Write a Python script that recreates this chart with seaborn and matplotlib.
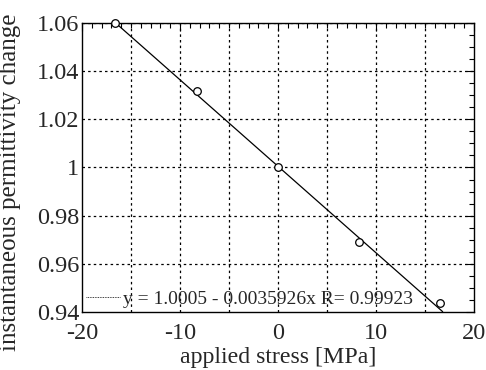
import numpy as np
import pandas as pd
import matplotlib
matplotlib.use("Agg")
import matplotlib.pyplot as plt
from matplotlib.lines import Line2D
from matplotlib.ticker import MultipleLocator
import seaborn as sns

# measured points
stress = [-16.6, -8.3, 0.0, 8.3, 16.5]
permittivity = [1.0600, 1.0318, 1.0000, 0.9690, 0.9437]

# linear fit
intercept = 1.0005
slope = -0.0035926
r_value = 0.99923
fit_range = [-16.6, 16.8]

sns.set_style("white")
plt.rcParams["font.family"] = ["Liberation Serif", "DejaVu Serif"]

fig = plt.figure(figsize=(4.86, 3.70), dpi=100)
ax = fig.add_axes([0.1687, 0.1568, 0.8066, 0.781])

pts = pd.DataFrame({"stress": stress, "perm": permittivity})
fit_x = np.array(fit_range)
fit = pd.DataFrame({"stress": fit_x, "perm": intercept + slope * fit_x})

sns.lineplot(data=fit, x="stress", y="perm", ax=ax, color="black", lw=0.9,
             zorder=3)
sns.scatterplot(data=pts, x="stress", y="perm", ax=ax, marker="o", s=30,
                facecolor="white", edgecolor="black", linewidth=0.9, zorder=4,
                clip_on=False)

ax.set_xlim(-20, 20)
ax.set_ylim(0.94, 1.06)
ax.set_xticks([-20, -10, 0, 10, 20])
ax.set_xticklabels(["-20", "-10", "0", "10", "20"])
ax.set_yticks([0.94, 0.96, 0.98, 1.00, 1.02, 1.04, 1.06])
ax.set_yticklabels(["0.94", "0.96", "0.98", "1", "1.02", "1.04", "1.06"])
ax.xaxis.set_minor_locator(MultipleLocator(1))
ax.yaxis.set_minor_locator(MultipleLocator(0.005))

# dotted grid every 5 MPa and every 0.02
for gx in np.arange(-15, 20, 5):
    ax.axvline(gx, color="black", lw=0.9, ls=(0, (2, 2.5)), zorder=1)
for gy in np.arange(0.96, 1.06, 0.02):
    ax.axhline(gy, color="black", lw=0.9, ls=(0, (2, 2.5)), zorder=1)

ax.tick_params(axis="both", which="both", direction="in", top=True,
               right=True, color="black")
ax.tick_params(axis="both", which="major", length=6, width=0.8,
               labelsize=17.5)
ax.tick_params(axis="x", which="major", pad=8)
ax.tick_params(axis="y", which="major", pad=2)
ax.tick_params(axis="both", which="minor", length=3.5, width=0.8)
for sp in ax.spines.values():
    sp.set_color("black")
    sp.set_linewidth(1.0)

ax.set_xlabel("applied stress [MPa]", fontsize=17.2, labelpad=2)
ax.set_ylabel("instantaneous permittivity change", fontsize=18)
ax.yaxis.set_label_coords(-0.155, 0.45)

handle = Line2D([], [], color="black", lw=0.6, ls=(0, (1, 1)))
ax.legend([handle],
          [f"y = {intercept} - {abs(slope)}x R= {r_value}"],
          loc="lower left", frameon=False, fontsize=14,
          handlelength=1.75, handletextpad=0.15, borderaxespad=0.05,
          borderpad=0.15)

fig.savefig("out.png", dpi=100, facecolor="white")
